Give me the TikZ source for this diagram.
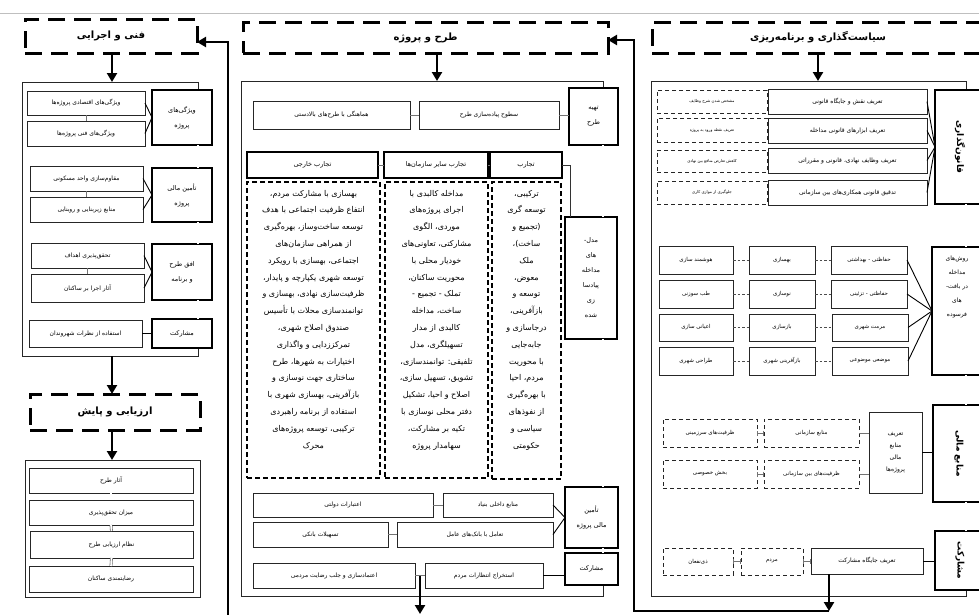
\documentclass[tikz,border=0pt]{standalone}
\usepackage{fontspec}
\usetikzlibrary{arrows.meta,calc}
\TeXXeTstate=1
\newfontfamily\arabicfont[Script=Arabic]{DejaVu Sans}
\newcommand\fa[1]{{\arabicfont\beginR #1\endR}}
\newcommand\mybox[7]{\node[#6, minimum width={#4-#2}, minimum height={#5-#3}] (#1) at ({(#2+#4)/2},{(#3+#5)/2}) {#7};}
\tikzset{
 every node/.style={inner sep=0pt, outer sep=0pt, align=center},
 item/.style={draw=black!85, line width=0.9pt, fill=white, font=\fontsize{6}{12}\selectfont},
 gitem/.style={item, font=\fontsize{5.5}{11}\selectfont},
 ditem/.style={draw=black!85, line width=1pt, dash pattern=on 4pt off 3pt, font=\fontsize{5.5}{11}\selectfont},
 sitem/.style={ditem, font=\fontsize{4}{8}\selectfont},
 cat/.style={draw, line width=2.6pt, fill=white, font=\fontsize{6.5}{15}\selectfont},
 catb/.style={draw, line width=2pt, fill=white},
 thd/.style={draw, line width=1.4pt, fill=white, font=\fontsize{6.5}{12}\selectfont},
 frm/.style={draw=black!85, line width=0.8pt},
 hdr/.style={draw, line width=3pt, dash pattern=on 17pt off 9pt, font=\bfseries\fontsize{10}{12}\selectfont},
 dcol/.style={draw, line width=1.2pt, dash pattern=on 5pt off 3pt},
 coltext/.style={font=\fontsize{8}{16.8}\selectfont, anchor=north},
 rot/.style={rotate=-90, font=\bfseries\fontsize{9}{11}\selectfont},
 conn/.style={draw=black!55, line width=0.7pt},
 fan/.style={draw=black, line width=0.9pt},
 dconn/.style={draw=black!70, line width=0.7pt, dash pattern=on 2.5pt off 2pt},
 hconn/.style={draw=black!55, line width=0.7pt, {Bar[width=5pt]}-{Bar[width=5pt]}},
 dbl/.style={draw=black!60, double=white, line width=0.6pt, double distance=1.6pt},
 flowarrow/.style={line width=2.6pt, -{Triangle[width=10pt,length=9pt]}},
}
\begin{document}
\begin{tikzpicture}[x=1pt,y=-1pt]
\useasboundingbox (0,0) rectangle (979,614);
\clip (0,0) rectangle (979,614);
\fill[white] (0,0) rectangle (979,614);
\draw[black!25, line width=1pt] (0,13) -- (979,13);

% ================= LEFT =================
\mybox{hdrL}{25}{19}{197}{53}{hdr}{\fa{فنی و اجرایی}}
\mybox{frameL}{22}{82}{198}{356}{frm}{}
\mybox{cL1}{152}{90}{212}{145}{cat}{\fa{ویژگی‌های}\\\fa{پروژه}}
\mybox{iL1a}{27}{91}{145}{115}{item}{\fa{ویژگی‌های اقتصادی پروژه‌ها}}
\mybox{iL1b}{27}{121}{145}{146}{item}{\fa{ویژگی‌های فنی پروژه‌ها}}
\mybox{cL2}{152}{168}{212}{222}{cat}{\fa{تأمین مالی}\\\fa{پروژه}}
\mybox{iL2a}{30}{166}{143}{191}{item}{\fa{مقاوم‌سازی واحد مسکونی}}
\mybox{iL2b}{30}{197}{143}{222}{item}{\fa{منابع زیربنایی و روبنایی}}
\mybox{cL3}{152}{244}{212}{300}{cat}{\fa{افق طرح}\\\fa{و برنامه}}
\mybox{iL3a}{31}{243}{144}{268}{item}{\fa{تحقق‌پذیری اهداف}}
\mybox{iL3b}{31}{274}{144}{302}{item}{\fa{آثار اجرا بر ساکنان}}
\mybox{cL4}{152}{319}{212}{348}{cat}{\fa{مشارکت}}
\mybox{iL4a}{29}{320}{142}{347}{item}{\fa{استفاده از نظرات شهروندان}}

\draw[conn] (iL1a.south) -- (iL1b.north);
\draw[conn] (iL2a.south) -- (iL2b.north);
\draw[conn] (iL3a.south) -- (iL3b.north);
\draw[fan] (iL1a.east) -- (cL1.west);
\draw[fan] (iL1b.east) -- (cL1.west);
\draw[fan] (iL2a.east) -- (cL2.west);
\draw[fan] (iL2b.east) -- (cL2.west);
\draw[fan] (iL3a.east) -- (cL3.west);
\draw[fan] (iL3b.east) -- (cL3.west);
\draw[fan] (iL4a.east) -- (iL4a.east -| cL4.west);
\coordinate (dL) at (198,0);
\draw[dbl] (cL1.south -| dL) -- (cL2.north -| dL);
\draw[dbl] (cL2.south -| dL) -- (cL3.north -| dL);
\draw[dbl] (cL3.south -| dL) -- (cL4.north -| dL);

\mybox{hdrE}{30}{394}{200}{430}{hdr}{\fa{ارزیابی و پایش}}
\mybox{frameE}{25}{460}{200}{597}{frm}{}
\mybox{e1}{29}{468}{193}{493}{item}{\fa{آثار طرح}}
\mybox{e2}{29}{500}{193}{525}{item}{\fa{میزان تحقق‌پذیری}}
\mybox{e3}{30}{531}{193}{558}{item}{\fa{نظام ارزیابی طرح}}
\mybox{e4}{29}{566}{193}{592}{item}{\fa{رضایتمندی ساکنان}}
\draw[dbl] (e1.south) -- (e2.north);
\draw[dbl] (e2.south) -- (e3.north);
\draw[dbl] (e3.south) -- (e4.north);

\coordinate (xL) at (112,0);
\draw[flowarrow] (hdrL.south -| xL) -- (frameL.north -| xL);
\draw[flowarrow] (frameL.south -| xL) -- (hdrE.north -| xL);
\draw[flowarrow] (hdrE.south -| xL) -- (frameE.north -| xL);
\coordinate (Lbot) at (228,620);
\coordinate (Ltop) at (228,42);
\draw[flowarrow] (Lbot) -- (Ltop) -- (hdrL.east |- Ltop);

% ================= MIDDLE =================
\mybox{hdrM}{243}{22}{608}{53}{hdr}{\fa{طرح و پروژه}}
\mybox{frameM}{241}{81}{603}{596}{frm}{}
\mybox{cM1}{569}{88}{618}{145}{cat}{\fa{تهیه}\\\fa{طرح}}
\mybox{iM1a}{419}{101}{559}{129}{item}{\fa{سطوح پیاده‌سازی  طرح}}
\mybox{iM1b}{253}{101}{410}{129}{item}{\fa{هماهنگی با طرح‌های بالادستی}}
\draw[conn] (iM1a.east) -- (iM1a.east -| cM1.west);
\draw[conn] (iM1b.east) -- (iM1a.west);

\mybox{tk}{247}{152}{378}{178}{thd}{\fa{تجارب خارجی}}
\mybox{ts}{384}{152}{488}{178}{thd}{\fa{تجارب سایر سازمان‌ها}}
\mybox{tj}{490}{152}{562}{178}{thd}{\fa{تجارب}}
\draw[conn] (tk.east) -- (ts.west);
\draw[conn] (ts.east) -- (tj.west);
\mybox{dk}{247}{182}{380}{478}{dcol}{}
\mybox{ds}{385}{182}{488}{478}{dcol}{}
\mybox{dj}{492}{182}{561}{479}{dcol}{}
\coordinate (ytx) at (0,190);
\node[coltext] (tkx) at (dk.north |- ytx) {\fa{بهسازی با مشارکت مردم،}\\\fa{انتفاع ظرفیت اجتماعی با هدف}\\\fa{توسعه ساخت‌وساز، بهره‌گیری}\\\fa{از همراهی  سازمان‌های}\\\fa{اجتماعی، بهسازی با رویکرد}\\\fa{توسعه شهری یکپارچه و پایدار،}\\\fa{ظرفیت‌سازی نهادی، بهسازی و}\\\fa{توانمندسازی محلات با تأسیس}\\\fa{صندوق اصلاح شهری،}\\\fa{تمرکززدایی و واگذاری}\\\fa{اختیارات به شهرها، طرح}\\\fa{ساختاری جهت نوسازی و}\\\fa{بازآفرینی، بهسازی شهری با}\\\fa{استفاده از برنامه راهبردی}\\\fa{ترکیبی، توسعه پروژه‌های}\\\fa{محرک}};
\node[coltext] (tsx) at (ds.north |- ytx) {\fa{مداخله کالبدی با}\\\fa{اجرای پروژه‌های}\\\fa{موردی، الگوی}\\\fa{مشارکتی، تعاونی‌های}\\\fa{خودیار محلی با}\\\fa{محوریت ساکنان،}\\\fa{تملک - تجمیع -}\\\fa{ساخت، مداخله}\\\fa{کالبدی از مدار}\\\fa{تسهیلگری، مدل}\\\fa{تلفیقی: توانمندسازی،}\\\fa{تشویق، تسهیل سازی،}\\\fa{اصلاح و احیا، تشکیل}\\\fa{دفتر محلی نوسازی با}\\\fa{تکیه بر مشارکت،}\\\fa{سهامدار پروژه}};
\node[coltext] (tjx) at (dj.north |- ytx) {\fa{ترکیبی،}\\\fa{توسعه گری}\\\fa{(تجمیع و}\\\fa{ساخت)،}\\\fa{ملک}\\\fa{معوض،}\\\fa{توسعه و}\\\fa{بازآفرینی،}\\\fa{درجاسازی و}\\\fa{جابه‌جایی}\\\fa{با محوریت}\\\fa{مردم، احیا}\\\fa{با بهره‌گیری}\\\fa{از نفوذهای}\\\fa{سیاسی و}\\\fa{حکومتی}};

\mybox{mdl}{565}{217}{617}{339}{cat}{\fa{مدل-}\\\fa{های}\\\fa{مداخله}\\\fa{پیادسا}\\\fa{زی}\\\fa{شده}}
\coordinate (xJ) at (570,0);
\draw[conn,black!80] (tj.east) -| (mdl.north -| xJ);

\mybox{cM2}{565}{487}{618}{548}{cat}{\fa{تأمین}\\\fa{مالی پروژه}}
\mybox{iM2a}{443}{493}{553}{517}{item}{\fa{منابع داخلی بنیاد}}
\mybox{iM2b}{253}{493}{433}{517}{item}{\fa{اعتبارات دولتی}}
\mybox{iM2c}{397}{522}{553}{547}{item}{\fa{تعامل با بانک‌های عامل}}
\mybox{iM2d}{253}{522}{388}{547}{item}{\fa{تسهیلات بانکی}}
\draw[conn] (iM2b.east) -- (iM2a.west);
\draw[conn] (iM2d.east) -- (iM2c.west);
\draw[fan] (iM2a.east) -- (cM2.west);
\draw[fan] (iM2c.east) -- (cM2.west);
\mybox{cM3}{565}{553}{618}{585}{cat}{\fa{مشارکت}}
\mybox{iM3a}{425}{563}{543}{588}{item}{\fa{استخراج انتظارات مردم}}
\mybox{iM3b}{253}{563}{415}{588}{item}{\fa{اعتمادسازی و جلب رضایت مردمی}}
\draw[fan, line width=1.4pt] (iM3a.east) -- (iM3a.east -| cM3.west);
\draw[conn] (iM3b.east) -- (iM3a.west);
\coordinate (dM) at (603,0);
\draw[dbl] (cM1.south -| dM) -- (mdl.north -| dM);
\draw[dbl] (mdl.south -| dM) -- (cM2.north -| dM);
\draw[dbl] (cM2.south -| dM) -- (cM3.north -| dM);

\coordinate (xM) at (437,0);
\draw[flowarrow] (hdrM.south -| xM) -- (frameM.north -| xM);
\coordinate (Mst) at ($(iM3b.east)!0.5!(iM3a.west)$);
\coordinate (Mend) at (420,614);
\draw[flowarrow] (Mst) -- (Mst |- Mend);

% ================= RIGHT =================
\mybox{hdrR}{652}{22}{984}{53}{hdr}{\fa{سیاست‌گذاری و برنامه‌ریزی}}
\mybox{frameR}{651}{81}{966}{596}{frm}{}
\mybox{cR1}{935}{90}{985}{204}{cat}{}
\node[rot] (cR1t) at (cR1.center) {\fa{قانون‌گذاری}};
\mybox{r1}{768}{89}{927}{114}{item}{\fa{تعریف نقش و جایگاه قانونی}}
\mybox{r2}{768}{118}{927}{143}{item}{\fa{تعریف ابزارهای قانونی مداخله}}
\mybox{r3}{768}{148}{927}{173}{item}{\fa{تعریف وظایف نهادی، قانونی و مقرراتی}}
\mybox{r4}{768}{180}{927}{205}{item}{\fa{تدقیق قانونی همکاری‌های بین سازمانی}}
\mybox{d1}{657}{90}{767}{113}{sitem}{\fa{مشخص شدن شرح وظایف}}
\mybox{d2}{657}{118}{767}{142}{sitem}{\fa{تعریف نقطه ورود به پروژه}}
\mybox{d3}{657}{150}{767}{172}{sitem}{\fa{کاهش تعارض منافع بین نهادی}}
\mybox{d4}{657}{181}{767}{204}{sitem}{\fa{جلوگیری از موازی کاری}}
\foreach \n in {r1,r2,r3,r4} \draw[fan] (\n.east) -- (cR1.west);

\mybox{cR2}{932}{247}{985}{375}{catb}{}
\node[font=\fontsize{6}{14}\selectfont, anchor=north] (cR2t) at (957,256) {\fa{روش‌های}\\\fa{مداخله}\\\fa{در بافت-}\\\fa{های}\\\fa{فرسوده}};
\mybox{g31}{831}{246}{907}{274}{gitem}{\fa{حفاظتی - بهداشتی}}
\mybox{g32}{831}{280}{907}{308}{gitem}{\fa{حفاظتی - تزئینی}}
\mybox{g33}{832}{314}{908}{341}{gitem}{\fa{مرمت شهری}}
\mybox{g34}{832}{347}{908}{375}{gitem}{\fa{موضعی موضوعی}}
\mybox{g21}{749}{246}{815}{274}{gitem}{\fa{بهسازی}}
\mybox{g22}{749}{280}{815}{308}{gitem}{\fa{نوسازی}}
\mybox{g23}{749}{314}{815}{341}{gitem}{\fa{بازسازی}}
\mybox{g24}{749}{347}{815}{375}{gitem}{\fa{بازآفرینی شهری}}
\mybox{g11}{659}{246}{733}{274}{gitem}{\fa{هوشمند سازی}}
\mybox{g12}{659}{280}{733}{308}{gitem}{\fa{طب سوزنی}}
\mybox{g13}{659}{314}{733}{341}{gitem}{\fa{اعیانی سازی}}
\mybox{g14}{659}{347}{733}{375}{gitem}{\fa{طراحی شهری}}
\foreach \r in {1,2,3,4} {
  \draw[dconn] (g1\r.east) -- (g2\r.west);
  \draw[dconn] (g2\r.east) -- (g3\r.west);
  \draw[fan] (g3\r.east) -- (cR2.west);
}

\mybox{cR3}{933}{405}{985}{502}{cat}{}
\node[rot] (cR3t) at (cR3.center) {\fa{منابع مالی}};
\mybox{f0}{869}{412}{922}{493}{item}{\fa{تعریف}\\\fa{منابع}\\\fa{مالی}\\\fa{پروژه‌ها}}
\mybox{fd1}{764}{419}{859}{447}{ditem}{\fa{منابع سازمانی}}
\mybox{fd2}{663}{419}{757}{447}{ditem}{\fa{ظرفیت‌های سرزمینی}}
\mybox{fd3}{764}{460}{859}{488}{ditem}{\fa{ظرفیت‌های بین سازمانی}}
\mybox{fd4}{663}{460}{757}{488}{ditem}{\fa{بخش خصوصی}}
\draw[fan] (f0.east) -- (f0.east -| cR3.west);
\draw[conn] (fd1.east) -- (fd1.east -| f0.west);
\draw[conn] (fd3.east) -- (fd3.east -| f0.west);
\draw[hconn] (fd2.east) -- (fd1.west);
\draw[hconn] (fd4.east) -- (fd3.west);

\mybox{cR4}{935}{531}{985}{590}{cat}{}
\node[rot] (cR4t) at (cR4.center) {\fa{مشارکت}};
\mybox{p0}{811}{548}{923}{574}{item}{\fa{تعریف جایگاه مشارکت}}
\mybox{pd1}{741}{548}{803}{575}{ditem}{\fa{مردم}}
\mybox{pd2}{663}{548}{733}{575}{ditem}{\fa{ذی‌نفعان}}
\draw[fan] (p0.east) -- (p0.east -| cR4.west);
\draw[hconn] (pd1.east) -- (pd1.east -| p0.west);
\draw[hconn] (pd2.east) -- (pd1.west);

\coordinate (dR) at (966,0);
\draw[dbl] (cR1.south -| dR) -- (cR2.north -| dR);
\draw[dbl] (cR2.south -| dR) -- (cR3.north -| dR);
\draw[dbl] (cR3.south -| dR) -- (cR4.north -| dR);

\coordinate (xR) at (818,0);
\draw[flowarrow] (hdrR.south -| xR) -- (frameR.north -| xR);
\coordinate (xP) at (829,0);
\coordinate (Rb) at (634,611);
\coordinate (Rt) at (634,40);
\draw[flowarrow] (p0.south -| xP) -- (xP |- Rb);
\draw[flowarrow] (xP |- Rb) -- (Rb) -- (Rt) -- (hdrM.east |- Rt);
\end{tikzpicture}
\end{document}
